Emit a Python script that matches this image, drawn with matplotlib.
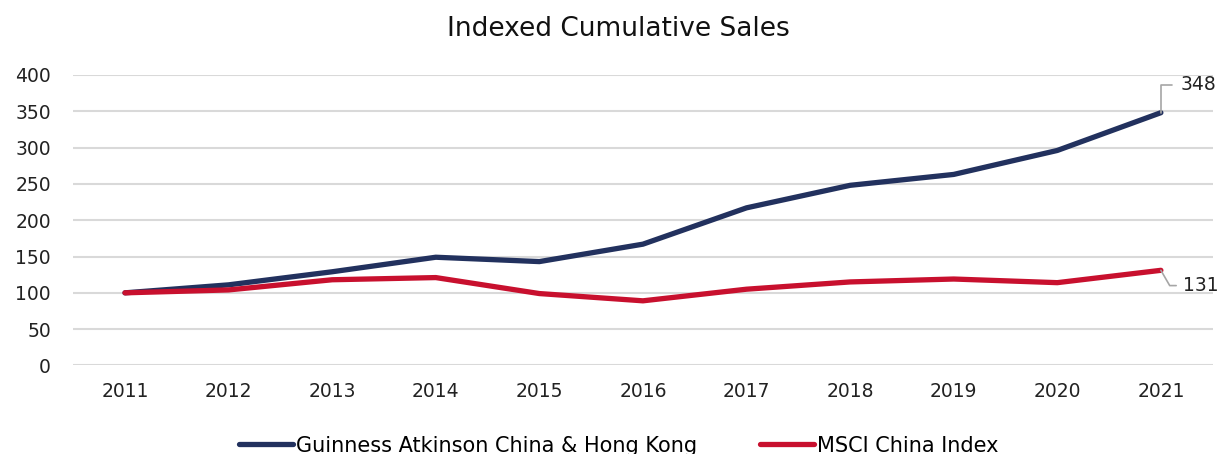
import matplotlib.pyplot as plt

plt.rcParams['font.family'] = ['DejaVu Sans']

years = ['2011', '2012', '2013', '2014', '2015', '2016',
         '2017', '2018', '2019', '2020', '2021']
guinness = [100, 111, 129, 149, 143, 167, 217, 248, 263, 296, 348]
msci = [100, 104, 118, 121, 99, 89, 105, 115, 119, 114, 131]

navy = '#22315e'
red = '#c8102e'

fig = plt.figure(figsize=(12.2, 4.54), dpi=100)
ax = fig.add_axes([0.06, 0.195, 0.934, 0.64])

x = list(range(len(years)))
ax.plot(x, guinness, color=navy, linewidth=3.8, solid_capstyle='round',
        label='Guinness Atkinson China & Hong Kong')
ax.plot(x, msci, color=red, linewidth=3.8, solid_capstyle='round',
        label='MSCI China Index')

ax.set_xlim(-0.5, len(years) - 0.5)
ax.set_ylim(0, 400)
ax.set_yticks(range(0, 401, 50))
ax.set_xticks(x)
ax.set_xticklabels(years)
ax.tick_params(axis='both', length=0, labelsize=13.5, colors='#222222')
ax.tick_params(axis='y', pad=16)
ax.tick_params(axis='x', pad=12)
ax.grid(axis='y', color='#d9d9d9', linewidth=1.5)
ax.set_axisbelow(True)
for s in ax.spines.values():
    s.set_visible(False)

# end-point labels with leader lines
last = len(years) - 1
ax.annotate(str(guinness[-1]), xy=(last, guinness[-1]), xytext=(14, 20),
            textcoords='offset points', fontsize=13.5, va='center', color='#222222',
            annotation_clip=False,
            arrowprops=dict(arrowstyle='-', color='#a6a6a6', lw=1.2,
                            connectionstyle='angle,angleA=0,angleB=90,rad=0',
                            shrinkA=4, shrinkB=0))
ax.annotate(str(msci[-1]), xy=(last, msci[-1]), xytext=(16, -11),
            textcoords='offset points', fontsize=13.5, va='center', color='#222222',
            annotation_clip=False,
            arrowprops=dict(arrowstyle='-', color='#a6a6a6', lw=1.2,
                            connectionstyle='angle,angleA=0,angleB=-60,rad=0',
                            shrinkA=3, shrinkB=0))

fig.suptitle('Indexed Cumulative Sales', fontsize=19, x=0.507, y=0.965, color='#111111')

fig.legend(loc='lower center', bbox_to_anchor=(0.507, -0.045), ncol=2, frameon=False,
           fontsize=15, handlelength=2.6, handletextpad=0.15, columnspacing=3.0)

fig.savefig('out.png', dpi=100)
